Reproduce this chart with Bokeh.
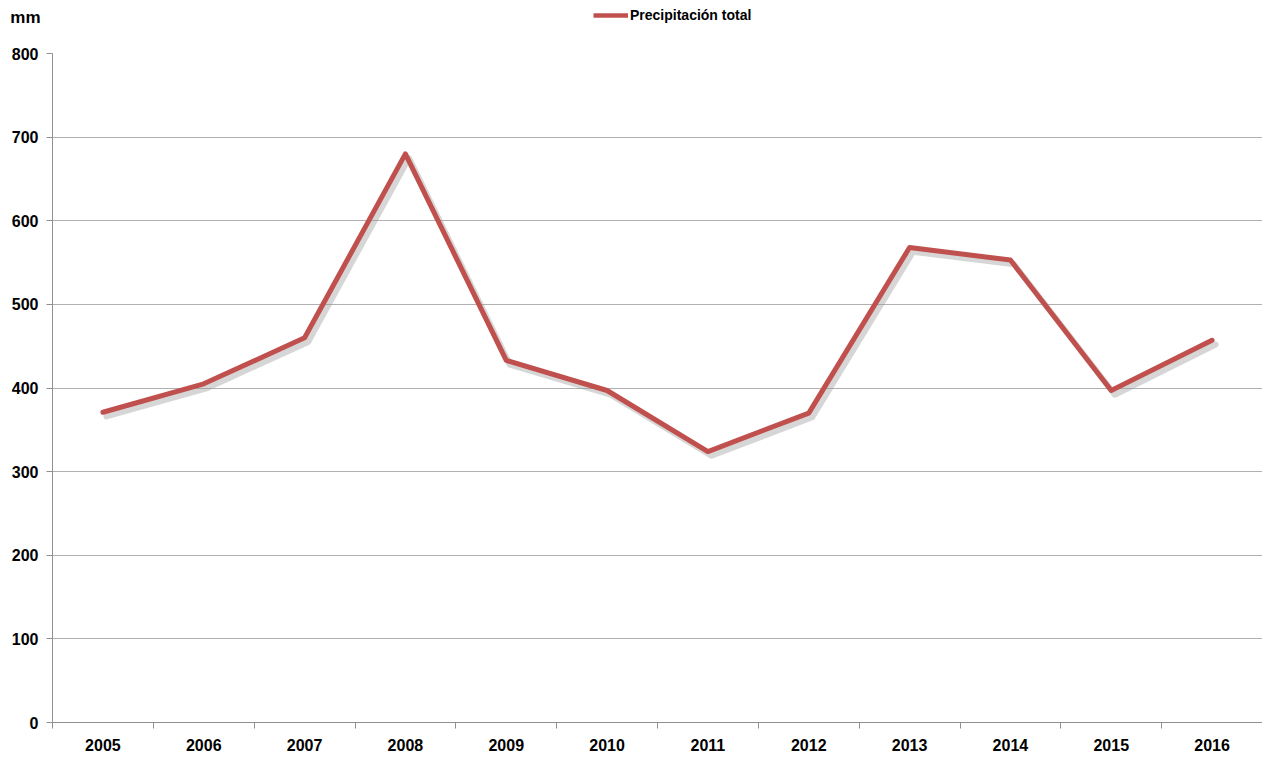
from bokeh.plotting import figure
from bokeh.layouts import column
from bokeh.models import (ColumnDataSource, FixedTicker, Range1d, Legend, LegendItem)
from bokeh.transform import dodge
from bokeh.embed import file_html
from bokeh.resources import INLINE

years = ["2005", "2006", "2007", "2008", "2009", "2010", "2011", "2012", "2013", "2014", "2015", "2016"]
precip = [371, 405, 460, 680, 433, 397, 324, 370, 568, 553, 397, 457]
series_name = "Precipitación total"
y_unit = "mm"

font = "Liberation Sans"
red = "#c0504d"
W = 1262
NAN = float("nan")

xs = list(range(len(years)))
src = ColumnDataSource(dict(x=xs, y=precip))

# ---- header (unit label + legend)
hdr = figure(width=W, height=34, output_backend="svg", toolbar_location=None,
             x_range=Range1d(0, W - 52), y_range=Range1d(0, 1),
             x_axis_location=None, min_border=0, min_border_left=52)
hdr.outline_line_color = None
hdr.grid.grid_line_color = None
hya = hdr.yaxis[0]
hya.ticker = FixedTicker(ticks=[])
hya.axis_line_color = None
hya.major_tick_line_color = None
hya.minor_tick_line_color = None
hya.major_label_text_font_size = "0px"
hya.axis_label = y_unit
hya.axis_label_orientation = "horizontal"
hya.axis_label_text_font = font
hya.axis_label_text_font_style = "bold"
hya.axis_label_text_font_size = "17px"
hya.axis_label_text_color = "black"
hya.axis_label_standoff = 12

hr = hdr.line(x=[NAN], y=[NAN], line_color=red, line_width=4.5)
legend = Legend(items=[LegendItem(label=series_name, renderers=[hr])],
                orientation="horizontal", location=(541, 9),
                border_line_color=None, background_fill_alpha=0,
                label_text_font=font, label_text_font_style="bold",
                label_text_font_size="14px", label_text_color="black",
                glyph_width=35, glyph_height=20, label_standoff=2,
                padding=0, margin=0)
hdr.add_layout(legend)

# ---- main plot
p = figure(width=W, height=722, output_backend="svg", toolbar_location=None,
           x_range=Range1d(-0.5, len(years) - 0.5), y_range=Range1d(0, 800),
           min_border_left=52, min_border_right=0, min_border_top=19, min_border_bottom=34)
p.outline_line_color = None
p.background_fill_color = "white"

# shadow
p.line(x=dodge("x", 0.035), y=dodge("y", -5), source=src, line_color="#999999",
       line_alpha=0.4, line_width=6, line_join="round", line_cap="round")
p.line(x="x", y="y", source=src, line_color=red, line_width=5,
       line_join="round", line_cap="round")

xa = p.xaxis[0]
xa.ticker = FixedTicker(ticks=xs, minor_ticks=[i - 0.5 for i in range(len(years) + 1)])
xa.major_label_overrides = {i: y for i, y in enumerate(years)}
xa.major_tick_line_color = None
xa.minor_tick_in = 0
xa.minor_tick_out = 6
xa.minor_tick_line_color = "#909090"
xa.axis_line_color = "#909090"
xa.major_label_text_font = font
xa.major_label_text_font_style = "bold"
xa.major_label_text_font_size = "16px"
xa.major_label_text_color = "black"
xa.major_label_standoff = 10

ya = p.yaxis[0]
ya.ticker = FixedTicker(ticks=list(range(0, 801, 100)))
ya.minor_tick_line_color = None
ya.major_tick_in = 0
ya.major_tick_out = 6
ya.major_tick_line_color = "#909090"
ya.axis_line_color = "#909090"
ya.major_label_text_font = font
ya.major_label_text_font_style = "bold"
ya.major_label_text_font_size = "16px"
ya.major_label_text_color = "black"
ya.major_label_standoff = 8

p.xgrid.grid_line_color = None
p.ygrid.grid_line_color = "#b0b0b0"
p.ygrid.grid_line_width = 1

layout = column(hdr, p, spacing=0)
open("out.html", "w").write(file_html(layout, INLINE))
